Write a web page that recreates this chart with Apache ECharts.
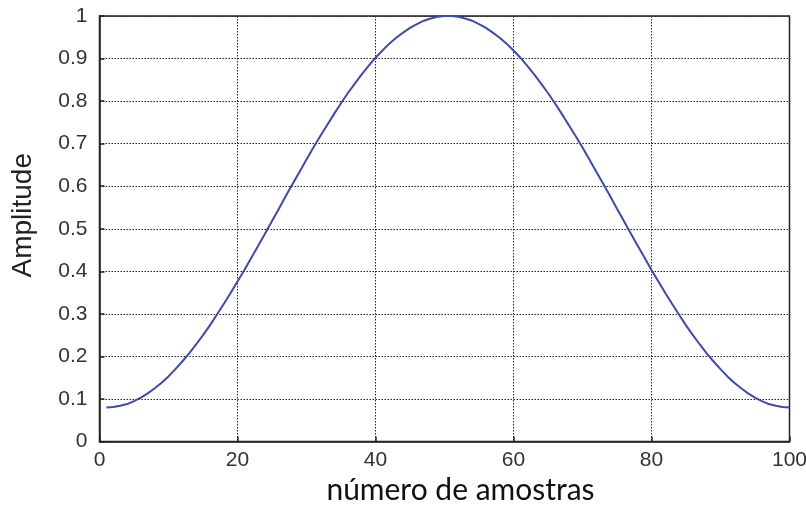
<!DOCTYPE html>
<html>
<head>
<meta charset="utf-8">
<script src="https://cdn.jsdelivr.net/npm/echarts@6/dist/echarts.min.js"></script>
<style>
  html, body { margin: 0; padding: 0; background: #fff; }
  #chart { width: 806px; height: 505px; }
</style>
</head>
<body>
<div id="chart"></div>
<script>
// Window amplitude per sample, samples 1..100
const samples = [];
for (let i = 1; i <= 100; i++) samples.push(i);

const firstHalf = [
  0.080, 0.081, 0.084, 0.088, 0.095, 0.103, 0.113, 0.125, 0.138, 0.153,
  0.170, 0.188, 0.207, 0.228, 0.250, 0.273, 0.298, 0.323, 0.349, 0.376,
  0.403, 0.432, 0.460, 0.489, 0.518, 0.547, 0.577, 0.606, 0.634, 0.663,
  0.691, 0.718, 0.744, 0.770, 0.795, 0.819, 0.841, 0.863, 0.883, 0.902,
  0.919, 0.935, 0.949, 0.961, 0.972, 0.981, 0.989, 0.994, 0.998, 1.000
];
const secondHalf = [
  1.000, 0.998, 0.994, 0.989, 0.981, 0.972, 0.961, 0.949, 0.935, 0.919,
  0.902, 0.883, 0.863, 0.841, 0.819, 0.795, 0.770, 0.744, 0.718, 0.691,
  0.663, 0.634, 0.606, 0.577, 0.547, 0.518, 0.489, 0.460, 0.432, 0.403,
  0.376, 0.349, 0.323, 0.298, 0.273, 0.250, 0.228, 0.207, 0.188, 0.170,
  0.153, 0.138, 0.125, 0.113, 0.103, 0.095, 0.088, 0.084, 0.081, 0.080
];
const amplitude = firstHalf.concat(secondHalf);

const xTicks = [0, 20, 40, 60, 80, 100];
const yTicks = [0, 0.1, 0.2, 0.3, 0.4, 0.5, 0.6, 0.7, 0.8, 0.9, 1];

const xName = 'número de amostras';
const yName = 'Amplitude';

const chart = echarts.init(document.getElementById('chart'), null, { renderer: 'canvas' });

const dotted = { show: true, lineStyle: { color: '#222', type: [1.5, 1.5], width: 1 } };
const labelFont = { fontFamily: 'Liberation Sans, Arial, sans-serif', fontSize: 21, color: '#333' };

chart.setOption({
  animation: false,
  backgroundColor: '#fff',
  grid: {
    left: 99.5, right: 16.5, top: 16, bottom: 63.5,
    containLabel: false, outerBoundsMode: 'none',
    show: true, borderColor: '#222', borderWidth: 1.5, backgroundColor: 'transparent'
  },
  xAxis: {
    type: 'value', min: 0, max: 100, interval: 20,
    name: xName, nameLocation: 'middle', nameGap: 32,
    nameTextStyle: { fontFamily: 'Lato, "Open Sans", sans-serif', fontSize: 30, color: '#111', padding: [0, 0, 0, 32] },
    axisLine: { show: true, lineStyle: { color: '#222', width: 1.5 } },
    axisTick: { show: true, inside: true, length: 5, lineStyle: { color: '#222', width: 1.5 } },
    axisLabel: Object.assign({ margin: 8, formatter: v => xTicks.includes(v) ? String(v) : '' }, labelFont),
    splitLine: dotted
  },
  yAxis: {
    type: 'value', min: 0, max: 1, interval: 0.1,
    name: yName, nameLocation: 'middle', nameGap: 62, nameRotate: 90,
    nameTextStyle: { fontFamily: 'Liberation Sans, Arial, sans-serif', fontSize: 28, color: '#222', padding: [0, 0, 0, 27] },
    axisLine: { show: true, lineStyle: { color: '#222', width: 1.5 } },
    axisTick: { show: true, inside: true, length: 5, lineStyle: { color: '#222', width: 1.5 } },
    axisLabel: Object.assign({ margin: 12, formatter: v => {
      const r = Math.round(v * 10) / 10;
      return yTicks.includes(r) ? String(r) : '';
    } }, labelFont),
    splitLine: dotted
  },
  series: [{
    type: 'line',
    data: samples.map((s, i) => [s, amplitude[i]]),
    showSymbol: false,
    lineStyle: { color: '#3f4aa8', width: 2 },
    z: 3
  }]
});
</script>
</body>
</html>
